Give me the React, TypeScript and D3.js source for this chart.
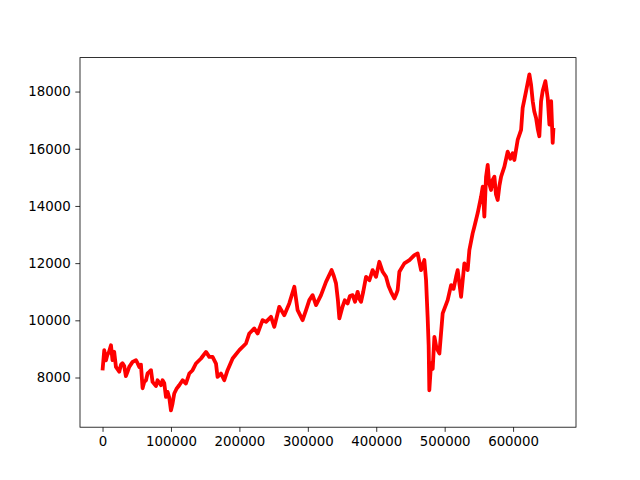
import React, { useEffect, useRef } from 'react';
import * as d3 from 'd3';

// index positions (sample number) and values
const xs = [
  0, 2500, 5000, 6900, 9500, 12300, 14600, 17000, 19600, 24400, 27000, 29200, 31700, 34100, 36500,
  39000, 43900, 48800, 51200, 53700, 56100, 58500, 61000, 63500, 65800, 68300, 70800, 73100,
  78100, 80400, 85400, 87700, 90200, 92700, 95000, 97500, 100000, 102000, 104800, 108000,
  112100, 117000, 121900, 126800, 131600, 136500, 143900, 151200, 156000, 160800, 165800,
  168100, 173100, 177900, 182700, 190100, 199900, 209600, 214500, 221800, 226600, 233900,
  238900, 246200, 251000, 258300, 265600, 272900, 280300, 285100, 292400, 297400, 302200,
  307000, 312000, 319300, 326600, 334800, 338000, 341200, 344000, 346100, 350400, 354000,
  358200, 361500, 365500, 369000, 372800, 375300, 377800, 381000, 385100, 390000, 394700,
  399700, 404500, 409400, 414300, 418000, 421600, 426500, 429000, 431300, 433800, 441100,
  448500, 455800, 460500, 465500, 470300, 472800, 475100, 476600, 477600, 480100, 482500,
  485000, 487500, 489800, 492300, 497100, 504400, 509400, 513000, 516700, 519000, 524000,
  528800, 533600, 536100, 540900, 543400, 548200, 553200, 555600, 558000, 560500, 562900,
  565000, 567800, 570000, 572700, 575000, 577500, 580000, 582500, 587300, 592100, 596000,
  599400, 601900, 606700, 611700, 614000, 619000, 623800, 626300, 628700, 631000, 633600,
  636000, 638400, 640900, 643300, 647200, 650600, 653100, 655600, 657900, 659000,
];
const values = [
  8250, 8955, 8600, 8780, 8900, 9130, 8606, 8900, 8371, 8200, 8450, 8500, 8400, 8050, 8200,
  8371, 8546, 8606, 8500, 8371, 8450, 7625, 7850, 7905, 8140, 8196, 8256, 7846,
  7700, 7905, 7730, 7905, 7800, 7321, 7496, 7300, 6850, 7050, 7440, 7600,
  7730, 7905, 7790, 8140, 8255, 8490, 8665, 8896, 8721, 8721, 8490,
  8021, 8140, 7905, 8256, 8665, 8956, 9190, 9540, 9716, 9540, 10006,
  9946, 10122, 9771, 10472, 10181, 10591, 11172, 10356, 10006, 10356, 10706,
  10881, 10531, 10881, 11347, 11757, 11550, 11291, 10700, 10066, 10450, 10700,
  10591, 10850, 10881, 10650, 10997, 10750, 10647, 11000, 11522, 11400, 11757,
  11522, 12047, 11697, 11522, 11200, 10997, 10766, 10900, 11056, 11697, 11991,
  12107, 12282, 12341, 11757, 12107, 11406, 10122, 9130, 7555, 8490, 8300,
  9421, 9100, 8956, 8840, 10241, 10706, 11231, 11100, 11522, 11757, 10822,
  11991, 11757, 12457, 13041, 13273, 13742, 14323, 14673, 13623, 15023, 15433,
  14800, 14558, 14900, 15023, 14400, 14207, 14700, 15023, 15373, 15898, 15650,
  15842, 15608, 16308, 16658, 17428, 18013, 18600, 18233, 17663, 17300, 17078,
  16700, 16437, 17663, 18024, 18363, 17778, 16843, 17663, 16203, 16728,
];
const xTicks = [0, 100000, 200000, 300000, 400000, 500000, 600000];
const yTicks = [8000, 10000, 12000, 14000, 16000, 18000];

const W = 640;
const H = 480;
const margin = { top: 57.6, right: 64, bottom: 52.8, left: 80 };

const App = () => {
  const svgRef = useRef<SVGSVGElement>(null);

  useEffect(() => {
    const svg = d3.select(svgRef.current);
    svg.selectAll('*').remove();

    const pts: [number, number][] = xs.map((x, i) => [x, values[i]]);
    const [x0, x1] = d3.extent(xs) as [number, number];
    const [y0, y1] = d3.extent(values) as [number, number];
    const px = (x1 - x0) * 0.05;
    const py = (y1 - y0) * 0.05;

    const x = d3.scaleLinear().domain([x0 - px, x1 + px]).range([margin.left, W - margin.right]);
    const y = d3.scaleLinear().domain([y0 - py, y1 + py]).range([H - margin.bottom, margin.top]);

    svg.append('rect').attr('width', W).attr('height', H).attr('fill', 'white');

    const line = d3.line<[number, number]>()
      .x(d => x(d[0]))
      .y(d => y(d[1]));

    svg.append('path')
      .datum(pts)
      .attr('fill', 'none')
      .attr('stroke', '#ff0000')
      .attr('stroke-width', 3.8)
      .attr('stroke-linejoin', 'round')
      .attr('d', line);

    const font = '"DejaVu Sans", sans-serif';

    const xAxis = d3.axisBottom(x).tickValues(xTicks).tickFormat(d3.format('d'))
      .tickSizeInner(4.67).tickSizeOuter(0).tickPadding(4.67);
    const gx = svg.append('g')
      .attr('transform', `translate(0,${H - margin.bottom})`)
      .call(xAxis);
    gx.select('.domain').remove();

    const yAxis = d3.axisLeft(y).tickValues(yTicks).tickFormat(d3.format('d'))
      .tickSizeInner(4.67).tickSizeOuter(0).tickPadding(4.67);
    const gy = svg.append('g')
      .attr('transform', `translate(${margin.left},0)`)
      .call(yAxis);
    gy.select('.domain').remove();

    svg.selectAll('.tick line').attr('stroke', 'black').attr('stroke-width', 0.8);
    svg.selectAll('.tick text')
      .attr('fill', 'black')
      .attr('font-family', font)
      .attr('font-size', 13.33);

    svg.append('rect')
      .attr('x', margin.left)
      .attr('y', margin.top)
      .attr('width', W - margin.left - margin.right)
      .attr('height', H - margin.top - margin.bottom)
      .attr('fill', 'none')
      .attr('stroke', 'black')
      .attr('stroke-width', 0.8);
  }, []);

  return (
    <svg
      ref={svgRef}
      width={W}
      height={H}
      style={{ position: 'absolute', left: 0, top: 0, display: 'block' }}
    />
  );
};

export default App;
